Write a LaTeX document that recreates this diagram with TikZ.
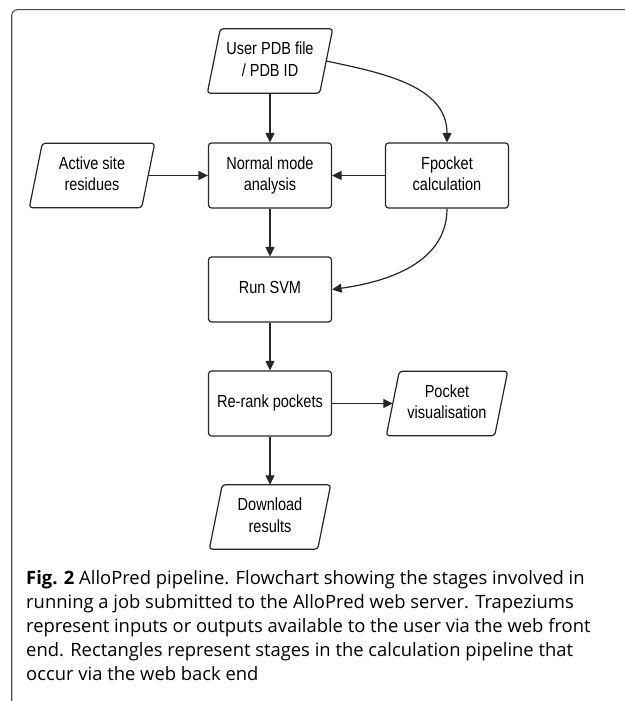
\documentclass[tikz,border=0pt]{standalone}
\usepackage{fontspec}
\usepackage{graphicx}
\setmainfont{Liberation Sans}
\newfontfamily\capfont{Open Sans}
\usetikzlibrary{arrows.meta}
\newcommand\dtxt[1]{\scalebox{0.83}[1]{\begin{tabular}{@{}c@{}}#1\end{tabular}}}
\newcommand\pgram[2]{\draw[shapeline] ([xshift=#2]#1.north west) -- ([xshift=#2]#1.north east) -- ([xshift=-#2]#1.south east) -- ([xshift=-#2]#1.south west) -- cycle;}
\tikzset{
  shapeline/.style={draw=black!85, line width=1.2bp, rounded corners=3bp},
  box/.style={shapeline, minimum width=123bp, minimum height=65bp, inner sep=0pt, font=\fontsize{17.5bp}{21.5bp}\selectfont},
  pg/.style={minimum width=#1, minimum height=64bp, inner sep=0pt, font=\fontsize{17.5bp}{21.5bp}\selectfont},
  arr/.style={-{Triangle[length=9.5bp,width=9bp]}, line width=1.2bp, draw=black!85},
  frame/.style={draw=black!70, line width=1.1bp, rounded corners=6bp},
}
\begin{document}
\begin{tikzpicture}[x=1bp,y=1bp]
\useasboundingbox (0,0) rectangle (625,-701);
\draw[frame] (11.7,-701) -- (11.7,-9.7) -- (625,-9.7);

\node[pg=112bp] (upd) at (270,-61) {\dtxt{User PDB file\\/ PDB ID}};
\pgram{upd}{6.5bp}
\node[pg=112bp] (act) at (92,-175.5) {\dtxt{Active site\\residues}};
\pgram{act}{6.5bp}
\node[box] (nma) at (270,-175.5) {\dtxt{Normal mode\\analysis}};
\node[box] (fpk) at (447,-175.5) {\dtxt{Fpocket\\calculation}};
\node[box] (svm) at (270,-289.5) {\dtxt{Run SVM}};
\node[box] (rrk) at (270,-403.5) {\dtxt{Re-rank pockets}};
\node[pg=108bp] (pv) at (447,-403.5) {\dtxt{Pocket\\visualisation}};
\pgram{pv}{6.5bp}
\node[pg=108bp] (dl) at (270,-517) {\dtxt{Download\\results}};
\pgram{dl}{6.5bp}

\draw[arr] (upd) -- (nma);
\draw[arr] (upd.east) to[out=-12, in=90] (fpk.north);
\draw[arr] (act) -- (nma);
\draw[arr] (fpk) -- (nma);
\draw[arr] (nma) -- (svm);
\draw[arr] (fpk.south) to[out=-90, in=8] (svm.east);
\draw[arr] (svm) -- (rrk);
\draw[arr] (rrk) -- (pv);
\draw[arr] (rrk) -- (dl);

\node[anchor=north west, align=left, inner sep=0pt, font=\capfont\fontsize{18.4bp}{24bp}\selectfont] (cap) at (26,-570)
{\textbf{Fig. 2} AlloPred pipeline. Flowchart showing the stages involved in\\
running a job submitted to the AlloPred web server. Trapeziums\\
represent inputs or outputs available to the user via the web front\\
end. Rectangles represent stages in the calculation pipeline that\\
occur via the web back end};
\end{tikzpicture}
\end{document}
